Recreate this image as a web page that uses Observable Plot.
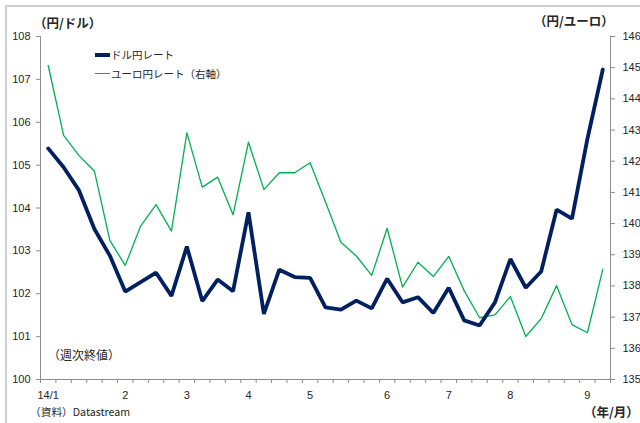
<!DOCTYPE html>
<html>
<head>
<meta charset="utf-8">
<script src="https://cdn.jsdelivr.net/npm/d3@7"></script>
<script src="https://cdn.jsdelivr.net/npm/@observablehq/plot@0.6"></script>
<style>
  html, body { margin:0; padding:0; background:#fff; overflow:hidden; }
  #wrap { position:relative; width:640px; height:423px; font-family:"Liberation Sans","Noto Sans CJK JP",sans-serif; color:#262626; }
  #wrap svg { position:absolute; left:0; top:0; }
  .frame { position:absolute; left:5px; top:5px; width:700px; height:500px; border:2px solid #cfcfcf; box-sizing:border-box; }
  .lbl { position:absolute; white-space:nowrap; font-size:11px; line-height:1; }
  .jp { font-family:"Noto Sans CJK JP",sans-serif; }
  .b { font-weight:bold; font-size:12.5px; }
  .leg { position:absolute; display:flex; align-items:center; font-family:"Noto Sans CJK JP",sans-serif; font-size:10.5px; white-space:nowrap; }
  .leg span.sw { display:inline-block; width:15px; margin-right:1px; }
</style>
</head>
<body>
<div id="wrap">
  <div class="frame"></div>
</div>
<script>
// Weekly closing values, 2014/1 to 2014/9
const usdjpy = [105.39,104.95,104.41,103.51,102.89,102.05,102.27,102.49,101.95,103.10,
                101.83,102.33,102.06,103.90,101.53,102.56,102.39,102.37,101.68,101.63,
                101.84,101.66,102.35,101.80,101.92,101.55,102.14,101.38,101.26,101.80,
                102.81,102.14,102.52,103.96,103.75,105.61,107.23];
const eurjpy = [145.07,142.83,142.18,141.68,139.46,138.66,139.92,140.61,139.76,142.91,
                141.17,141.49,140.28,142.61,141.09,141.63,141.63,141.95,140.69,139.40,
                138.96,138.34,139.85,137.96,138.76,138.30,138.95,137.85,136.98,137.07,
                137.66,136.38,136.95,138.01,136.76,136.50,138.53];
const monthLabels = ["14/1","2","3","4","5","6","7","8","9"];
const monthIndex = [0,5,9,13,17,22,26,30,35];
const leftTicks = [100,101,102,103,104,105,106,107,108];
const rightTicks = [135,136,137,138,139,140,141,142,143,144,145,146];

// right axis (135–146) mapped onto left scale (100–108)
const toLeft = v => 100 + (v - 135) * 8 / 11;
const fromLeft = v => 135 + (v - 100) * 11 / 8;

const n = usdjpy.length;
const usd = usdjpy.map((v, i) => ({i, v}));
const eur = eurjpy.map((v, i) => ({i, v: toLeft(v)}));
const bounds = d3.range(n + 1).map(i => i - 0.5);

const axisColor = "#8c8c8c";
const textColor = "#262626";

const chart = Plot.plot({
  width: 640,
  height: 423,
  marginLeft: 40,
  marginRight: 30,
  marginTop: 36,
  marginBottom: 44,
  style: {fontFamily: "Liberation Sans, sans-serif", fontSize: "11px", color: textColor, background: "transparent"},
  x: {type: "linear", domain: [-0.5, n - 0.5]},
  y: {domain: [100, 108]},
  marks: [
    Plot.ruleX([-0.5], {y1: 100, y2: 108, stroke: axisColor, strokeWidth: 1}),
    Plot.ruleX([n - 0.5], {y1: 100, y2: 108, stroke: axisColor, strokeWidth: 1}),
    Plot.ruleY([100], {stroke: axisColor, strokeWidth: 1}),
    Plot.axisY({anchor: "left", ticks: leftTicks, tickSize: 4, tickPadding: 6, stroke: axisColor, fill: textColor, label: null}),
    Plot.axisY({anchor: "right", ticks: rightTicks.map(toLeft), tickFormat: d => Math.round(fromLeft(d)), tickSize: 4, tickPadding: 8, stroke: axisColor, fill: textColor, label: null}),
    Plot.axisX({ticks: bounds, tickFormat: () => "", tickSize: 4, stroke: axisColor, label: null}),
    Plot.axisX({ticks: monthIndex, tickFormat: d => monthLabels[monthIndex.indexOf(d)], tickSize: 0, tickPadding: 12, fill: textColor, label: null}),
    Plot.line(eur, {x: "i", y: "v", stroke: "#00b050", strokeWidth: 1.3}),
    Plot.line(usd, {x: "i", y: "v", stroke: "#002060", strokeWidth: 3.8, strokeLinejoin: "miter"})
  ]
});
const wrap = document.getElementById("wrap");
wrap.appendChild(chart);

function addLabel(html, style, cls) {
  const d = document.createElement("div");
  d.className = "lbl " + (cls || "");
  d.innerHTML = html;
  Object.assign(d.style, style);
  wrap.appendChild(d);
}
addLabel("（円/ドル）", {left: "34px", top: "17px"}, "jp b");
addLabel("（円/ユーロ）", {left: "534px", top: "15px"}, "jp b");
addLabel("（週次終値）", {left: "48px", top: "349px", fontSize: "12px"}, "jp");
addLabel("（資料）Datastream", {left: "30px", top: "407px", fontSize: "10.7px"}, "jp");
addLabel("（年/月）", {left: "584px", top: "406px"}, "jp b");

function addLegend(label, color, w, top) {
  const d = document.createElement("div");
  d.className = "leg";
  d.style.left = "95px";
  d.style.top = top + "px";
  d.innerHTML = `<span class="sw" style="border-top:${w}px solid ${color}"></span>${label}`;
  wrap.appendChild(d);
}
addLegend("ドル円レート", "#002060", 4, 47);
addLegend("ユーロ円レート（右軸）", "#00b050", 1.3, 66);
</script>
</body>
</html>
